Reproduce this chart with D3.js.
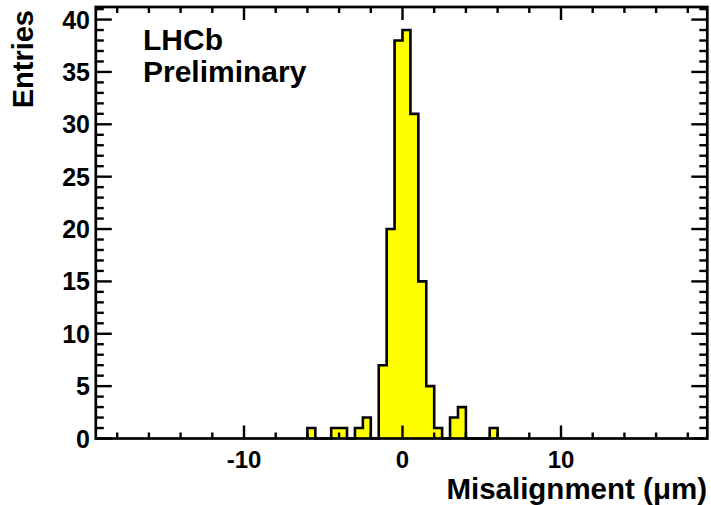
<!DOCTYPE html>
<html lang="en">
	<head>
		<meta charset="utf-8">
		<title>Misalignment</title>
		<script src="https://d3js.org/d3.v7.min.js"></script>
		<style>
			body { margin: 0; background: #fff; }
			text { font-family: "Liberation Sans", Arial, sans-serif; font-weight: bold; fill: #000; }
		</style>
	</head>
	<body>
		<div id="chart"></div>
		<script type="text/javascript">

		// bin lower edges (um) and entries, 0.5 um bins
		var binLow = [-6, -5.5, -5, -4.5, -4, -3.5, -3, -2.5, -2, -1.5, -1, -0.5,
			0, 0.5, 1, 1.5, 2, 2.5, 3, 3.5, 4, 4.5, 5, 5.5];
		var entries = [1, 0, 0, 1, 1, 0, 1, 2, 0, 7, 20, 38,
			39, 31, 15, 5, 1, 0, 2, 3, 0, 0, 0, 1];
		var binWidth = 0.5;

		var xMajor = [-10, 0, 10];
		var xMinor = [-18, -16, -14, -12, -8, -6, -4, -2, 2, 4, 6, 8, 12, 14, 16, 18];
		var yMajor = [0, 5, 10, 15, 20, 25, 30, 35, 40];
		var yMinor = [1, 2, 3, 4, 6, 7, 8, 9, 11, 12, 13, 14, 16, 17, 18, 19,
			21, 22, 23, 24, 26, 27, 28, 29, 31, 32, 33, 34, 36, 37, 38, 39, 41];

		//Width and height
		var w = 711;
		var h = 505;
		var frameL = 95.8, frameR = 707.3, frameT = 7, frameB = 438.5;

		//Define scales
		var x = d3.scaleLinear().domain([-19.35, 19.23]).range([frameL, frameR]);
		var y = d3.scaleLinear().domain([0, 41.2]).range([frameB, frameT]);

		//Create SVG element
		var svg = d3.select("#chart")
			.append("svg")
			.attr("width", w)
			.attr("height", h);

		svg.append("rect")
			.attr("width", w)
			.attr("height", h)
			.attr("fill", "#fff");

		// histogram vertices (step outline)
		var pts = [[binLow[0], 0]];
		binLow.forEach(function(lo, i) {
			pts.push([lo, entries[i]]);
			pts.push([lo + binWidth, entries[i]]);
		});
		pts.push([binLow[binLow.length - 1] + binWidth, 0]);

		var line = d3.line()
			.x(function(d) { return x(d[0]); })
			.y(function(d) { return y(d[1]); });

		svg.append("path")
			.attr("d", line(pts) + "Z")
			.attr("fill", "#ffff00")
			.attr("stroke", "none");

		svg.append("path")
			.attr("d", line(pts))
			.attr("fill", "none")
			.attr("stroke", "#000")
			.attr("stroke-width", 2.6)
			.attr("stroke-linejoin", "miter");

		// ticks on all four sides, pointing inward
		var ticks = svg.append("g")
			.attr("stroke", "#000")
			.attr("stroke-width", 2.4);

		function xTicks(vals, len) {
			vals.forEach(function(v) {
				ticks.append("line").attr("x1", x(v)).attr("x2", x(v)).attr("y1", frameB).attr("y2", frameB - len);
				ticks.append("line").attr("x1", x(v)).attr("x2", x(v)).attr("y1", frameT).attr("y2", frameT + len);
			});
		}
		function yTicks(vals, len) {
			vals.forEach(function(v) {
				ticks.append("line").attr("y1", y(v)).attr("y2", y(v)).attr("x1", frameL).attr("x2", frameL + len);
				ticks.append("line").attr("y1", y(v)).attr("y2", y(v)).attr("x1", frameR).attr("x2", frameR - len);
			});
		}
		xTicks(xMajor, 13);
		xTicks(xMinor, 6);
		yTicks(yMajor, 16);
		yTicks(yMinor, 8);

		// frame
		svg.append("rect")
			.attr("x", frameL)
			.attr("y", frameT)
			.attr("width", frameR - frameL)
			.attr("height", frameB - frameT)
			.attr("fill", "none")
			.attr("stroke", "#000")
			.attr("stroke-width", 2.7);

		// tick labels
		svg.selectAll("text.xlab")
			.data(xMajor)
			.enter().append("text")
			.attr("class", "xlab")
			.attr("x", function(d) { return x(d); })
			.attr("y", 468)
			.attr("text-anchor", "middle")
			.style("font-size", "24px")
			.text(function(d) { return d; });

		svg.selectAll("text.ylab")
			.data(yMajor)
			.enter().append("text")
			.attr("class", "ylab")
			.attr("x", 90)
			.attr("y", function(d) { return y(d) + 9; })
			.attr("text-anchor", "end")
			.style("font-size", "25px")
			.text(function(d) { return d; });

		// axis titles
		svg.append("text")
			.attr("x", 707)
			.attr("y", 499)
			.attr("text-anchor", "end")
			.style("font-size", "29.5px")
			.text("Misalignment (\u03bcm)");

		svg.append("text")
			.attr("transform", "translate(33,10) rotate(-90)")
			.attr("text-anchor", "end")
			.style("font-size", "29px")
			.text("Entries");

		// label
		svg.append("text")
			.attr("x", 143)
			.attr("y", 50)
			.style("font-size", "30px")
			.text("LHCb");
		svg.append("text")
			.attr("x", 143)
			.attr("y", 82)
			.style("font-size", "30px")
			.text("Preliminary");
		</script>
	</body>
</html>
